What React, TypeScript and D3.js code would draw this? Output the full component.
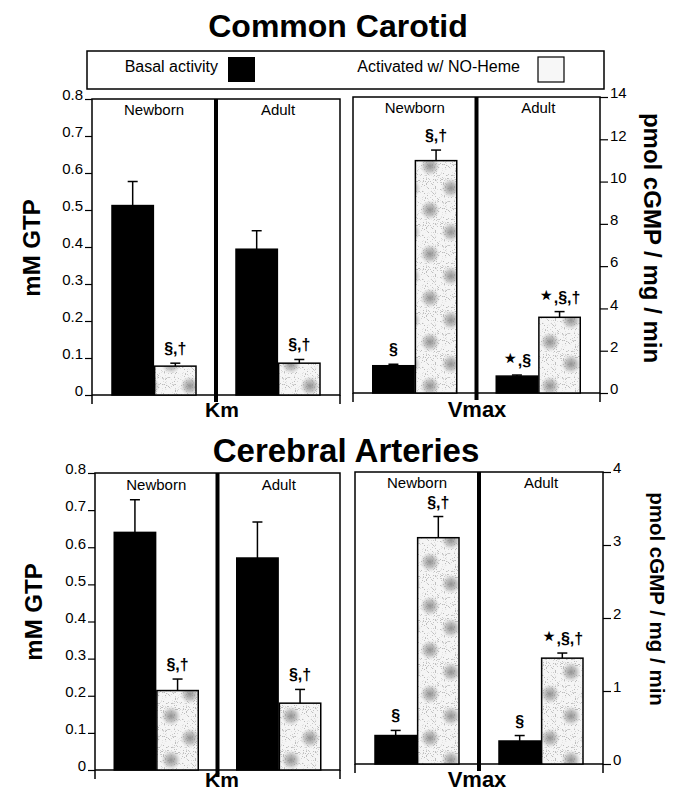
import React, { useEffect, useRef } from "react";
import * as d3 from "d3";

// categories
const ages = ["Newborn", "Adult"];
const seriesNames = ["Basal activity", "Activated w/ NO-Heme"];

// Common Carotid - Km (mM GTP)
const ccKmBasal = [0.512, 0.394];
const ccKmBasalErr = [0.065, 0.05];
const ccKmActivated = [0.078, 0.086];
const ccKmActivatedErr = [0.008, 0.01];
const ccKmBasalNotes = ["", ""];
const ccKmActivatedNotes = ["§,†", "§,†"];

// Common Carotid - Vmax (pmol cGMP / mg / min)
const ccVmaxBasal = [1.29, 0.8];
const ccVmaxBasalErr = [0.07, 0.05];
const ccVmaxActivated = [10.99, 3.58];
const ccVmaxActivatedErr = [0.5, 0.27];
const ccVmaxBasalNotes = ["§", "⋆,§"];
const ccVmaxActivatedNotes = ["§,†", "⋆,§,†"];

// Cerebral Arteries - Km
const caKmBasal = [0.64, 0.571];
const caKmBasalErr = [0.088, 0.097];
const caKmActivated = [0.214, 0.18];
const caKmActivatedErr = [0.031, 0.037];
const caKmBasalNotes = ["", ""];
const caKmActivatedNotes = ["§,†", "§,†"];

// Cerebral Arteries - Vmax
const caVmaxBasal = [0.39, 0.315];
const caVmaxBasalErr = [0.07, 0.075];
const caVmaxActivated = [3.1, 1.45];
const caVmaxActivatedErr = [0.29, 0.07];
const caVmaxBasalNotes = ["§", "§"];
const caVmaxActivatedNotes = ["§,†", "⋆,§,†"];

// tick labels
const kmTicks = [0, 0.1, 0.2, 0.3, 0.4, 0.5, 0.6, 0.7, 0.8];
const ccVmaxTicks = [0, 2, 4, 6, 8, 10, 12, 14];
const caVmaxTicks = [0, 1, 2, 3, 4];

const FONT = "'Liberation Sans', Arial, Helvetica, sans-serif";

type Panel = {
  left: number;
  right: number;
  top: number;
  bottom: number;
  max: number;
  ticks: number[];
  side: "left" | "right";
  basal: number[];
  basalErr: number[];
  activated: number[];
  activatedErr: number[];
  basalNotes: string[];
  activatedNotes: string[];
  groupLabelY: number;
};

const kmFormat = (d: number) => (d === 0 ? "0" : d3.format(".1f")(d));
const intFormat = (d: number) => String(d);

const App = () => {
  const ref = useRef<SVGSVGElement | null>(null);

  useEffect(() => {
    const svg = d3.select(ref.current);
    svg.selectAll("*").remove();

    // defs: stippled texture for the activated bars
    const defs = svg.append("defs");
    const grain = defs
      .append("filter")
      .attr("id", "grain")
      .attr("x", 0)
      .attr("y", 0)
      .attr("width", "100%")
      .attr("height", "100%");
    grain
      .append("feTurbulence")
      .attr("type", "fractalNoise")
      .attr("baseFrequency", 0.9)
      .attr("numOctaves", 2)
      .attr("seed", 4);
    grain
      .append("feColorMatrix")
      .attr("type", "matrix")
      .attr("values", "0 0 0 0 0.5  0 0 0 0 0.5  0 0 0 0 0.5  -9 0 0 0 3.7");

    const blob = defs.append("radialGradient").attr("id", "blob");
    blob.append("stop").attr("offset", 0).attr("stop-color", "#808080").attr("stop-opacity", 0.85);
    blob.append("stop").attr("offset", 0.55).attr("stop-color", "#999").attr("stop-opacity", 0.55);
    blob.append("stop").attr("offset", 1).attr("stop-color", "#bbb").attr("stop-opacity", 0);

    const pat = defs
      .append("pattern")
      .attr("id", "stipple")
      .attr("patternUnits", "userSpaceOnUse")
      .attr("width", 40)
      .attr("height", 44);
    pat.append("rect").attr("width", 40).attr("height", 44).attr("fill", "#f5f5f5");
    pat.append("rect").attr("width", 40).attr("height", 44).attr("filter", "url(#grain)");
    pat.append("circle").attr("cx", 11).attr("cy", 12).attr("r", 10).attr("fill", "url(#blob)");
    pat.append("circle").attr("cx", 30).attr("cy", 34).attr("r", 10).attr("fill", "url(#blob)");

    const noteText = (g: any, x: number, y: number, t: string) => {
      const txt = g
        .append("text")
        .attr("x", x)
        .attr("y", y)
        .attr("text-anchor", "middle")
        .style("font-family", FONT)
        .style("font-size", "16px")
        .style("font-weight", "bold");
      t.split(/(⋆)/).filter((s) => s).forEach((part) => {
        const ts = txt.append("tspan").text(part);
        if (part === "⋆") ts.style("font-size", "24px").style("font-family", "'DejaVu Sans', sans-serif");
      });
    };

    const drawPanel = (p: Panel) => {
      const g = svg.append("g");
      const y = d3.scaleLinear().domain([0, p.max]).range([p.bottom, p.top]);
      const xGroup = d3.scaleBand().domain(ages).range([p.left, p.right]);
      const xSeries = d3.scaleBand().domain(seriesNames).range([-42, 42]).paddingInner(0.03);
      const center = (a: string) => (xGroup(a) as number) + xGroup.bandwidth() / 2;

      // frame
      g.append("rect")
        .attr("x", p.left)
        .attr("y", p.top)
        .attr("width", p.right - p.left)
        .attr("height", p.bottom - p.top)
        .attr("fill", "none")
        .attr("stroke", "#000")
        .attr("stroke-width", 1.5);

      // bottom end ticks
      [p.left, p.right].forEach((xx) => {
        g.append("line")
          .attr("x1", xx)
          .attr("x2", xx)
          .attr("y1", p.bottom)
          .attr("y2", p.bottom + 9)
          .attr("stroke", "#000")
          .attr("stroke-width", 1.5);
      });

      // y axis
      const axis =
        p.side === "left"
          ? d3.axisLeft(y).tickValues(p.ticks).tickSize(7).tickFormat((d) => kmFormat(+d))
          : d3.axisRight(y).tickValues(p.ticks).tickSize(8).tickFormat((d) => intFormat(+d));
      const ag = g
        .append("g")
        .attr("transform", `translate(${p.side === "left" ? p.left : p.right},0)`)
        .call(axis);
      ag.select(".domain").remove();
      ag.selectAll(".tick line").attr("stroke-width", 1.2);
      ag.selectAll(".tick text")
        .attr("dy", "0.05em")
        .attr("x", p.side === "left" ? -9 : 10)
        .style("font-family", FONT)
        .style("font-size", "15px");

      // group labels
      ages.forEach((a) => {
        g.append("text")
          .attr("x", center(a))
          .attr("y", p.groupLabelY)
          .attr("text-anchor", "middle")
          .style("font-family", FONT)
          .style("font-size", "15px")
          .text(a);
      });

      const series = [
        { name: seriesNames[0], vals: p.basal, errs: p.basalErr, notes: p.basalNotes, fill: "#000" },
        { name: seriesNames[1], vals: p.activated, errs: p.activatedErr, notes: p.activatedNotes, fill: "url(#stipple)" },
      ];

      series.forEach((s) => {
        ages.forEach((a, i) => {
          const bx = center(a) + (xSeries(s.name) as number);
          const bw = xSeries.bandwidth();
          const mid = bx + bw / 2;
          const top = y(s.vals[i] + s.errs[i]);
          // error bar
          g.append("line")
            .attr("x1", mid)
            .attr("x2", mid)
            .attr("y1", y(s.vals[i]))
            .attr("y2", top)
            .attr("stroke", "#000")
            .attr("stroke-width", 1.5);
          g.append("line")
            .attr("x1", mid - 5)
            .attr("x2", mid + 5)
            .attr("y1", top)
            .attr("y2", top)
            .attr("stroke", "#000")
            .attr("stroke-width", 1.5);
          // bar
          g.append("rect")
            .attr("x", bx)
            .attr("y", y(s.vals[i]))
            .attr("width", bw)
            .attr("height", y(0) - y(s.vals[i]))
            .attr("fill", s.fill)
            .attr("stroke", "#000")
            .attr("stroke-width", 1.5);
          if (s.notes[i]) noteText(g, mid, top - 9, s.notes[i]);
        });
      });

      // thick divider between Newborn and Adult
      const dx = xGroup("Adult") as number;
      g.append("line")
        .attr("x1", dx)
        .attr("x2", dx)
        .attr("y1", p.top)
        .attr("y2", p.bottom + 7)
        .attr("stroke", "#000")
        .attr("stroke-width", 4);
    };

    const boldText = (x: number, y: number, size: number, t: string, rotate = 0) => {
      svg
        .append("text")
        .attr("transform", `translate(${x},${y}) rotate(${rotate})`)
        .attr("text-anchor", "middle")
        .attr("dominant-baseline", rotate ? "central" : "auto")
        .style("font-family", FONT)
        .style("font-size", `${size}px`)
        .style("font-weight", "bold")
        .text(t);
    };

    // titles
    boldText(338, 37, 32, "Common Carotid");
    boldText(346, 462, 33, "Cerebral Arteries");

    // legend
    const legend = svg.append("g");
    legend
      .append("rect")
      .attr("x", 87)
      .attr("y", 51)
      .attr("width", 517)
      .attr("height", 38)
      .attr("fill", "none")
      .attr("stroke", "#000")
      .attr("stroke-width", 1.5);
    legend
      .append("text")
      .attr("x", 218)
      .attr("y", 72)
      .attr("text-anchor", "end")
      .style("font-family", FONT)
      .style("font-size", "16px")
      .text(seriesNames[0]);
    legend.append("rect").attr("x", 228).attr("y", 57).attr("width", 27).attr("height", 25).attr("fill", "#000");
    legend
      .append("text")
      .attr("x", 520)
      .attr("y", 72)
      .attr("text-anchor", "end")
      .style("font-family", FONT)
      .style("font-size", "16px")
      .text(seriesNames[1]);
    legend
      .append("rect")
      .attr("x", 538)
      .attr("y", 57)
      .attr("width", 26)
      .attr("height", 25)
      .attr("fill", "#f7f7f7")
      .attr("stroke", "#000")
      .attr("stroke-width", 1.2);

    // panels
    drawPanel({
      left: 92, right: 340, top: 99, bottom: 395, max: 0.8, ticks: kmTicks, side: "left",
      basal: ccKmBasal, basalErr: ccKmBasalErr, activated: ccKmActivated, activatedErr: ccKmActivatedErr,
      basalNotes: ccKmBasalNotes, activatedNotes: ccKmActivatedNotes, groupLabelY: 115,
    });
    drawPanel({
      left: 353, right: 600, top: 97, bottom: 393, max: 14, ticks: ccVmaxTicks, side: "right",
      basal: ccVmaxBasal, basalErr: ccVmaxBasalErr, activated: ccVmaxActivated, activatedErr: ccVmaxActivatedErr,
      basalNotes: ccVmaxBasalNotes, activatedNotes: ccVmaxActivatedNotes, groupLabelY: 113,
    });
    drawPanel({
      left: 95, right: 340, top: 473, bottom: 770, max: 0.8, ticks: kmTicks, side: "left",
      basal: caKmBasal, basalErr: caKmBasalErr, activated: caKmActivated, activatedErr: caKmActivatedErr,
      basalNotes: caKmBasalNotes, activatedNotes: caKmActivatedNotes, groupLabelY: 490,
    });
    drawPanel({
      left: 355, right: 603, top: 472, bottom: 764, max: 4, ticks: caVmaxTicks, side: "right",
      basal: caVmaxBasal, basalErr: caVmaxBasalErr, activated: caVmaxActivated, activatedErr: caVmaxActivatedErr,
      basalNotes: caVmaxBasalNotes, activatedNotes: caVmaxActivatedNotes, groupLabelY: 488,
    });

    // axis titles
    boldText(222, 417, 21, "Km");
    boldText(477, 417, 22, "Vmax");
    boldText(222, 787, 21, "Km");
    boldText(477, 787, 22, "Vmax");
    boldText(31, 248, 24, "mM GTP", -90);
    boldText(33, 612, 24, "mM GTP", -90);
    boldText(652, 238, 24, "pmol cGMP / mg / min", 90);
    boldText(657, 599, 20.5, "pmol cGMP / mg / min", 90);
  }, []);

  return (
    <svg
      ref={ref}
      width={673}
      height={792}
      style={{ position: "absolute", left: 0, top: 0, background: "#fff" }}
    />
  );
};

export default App;
